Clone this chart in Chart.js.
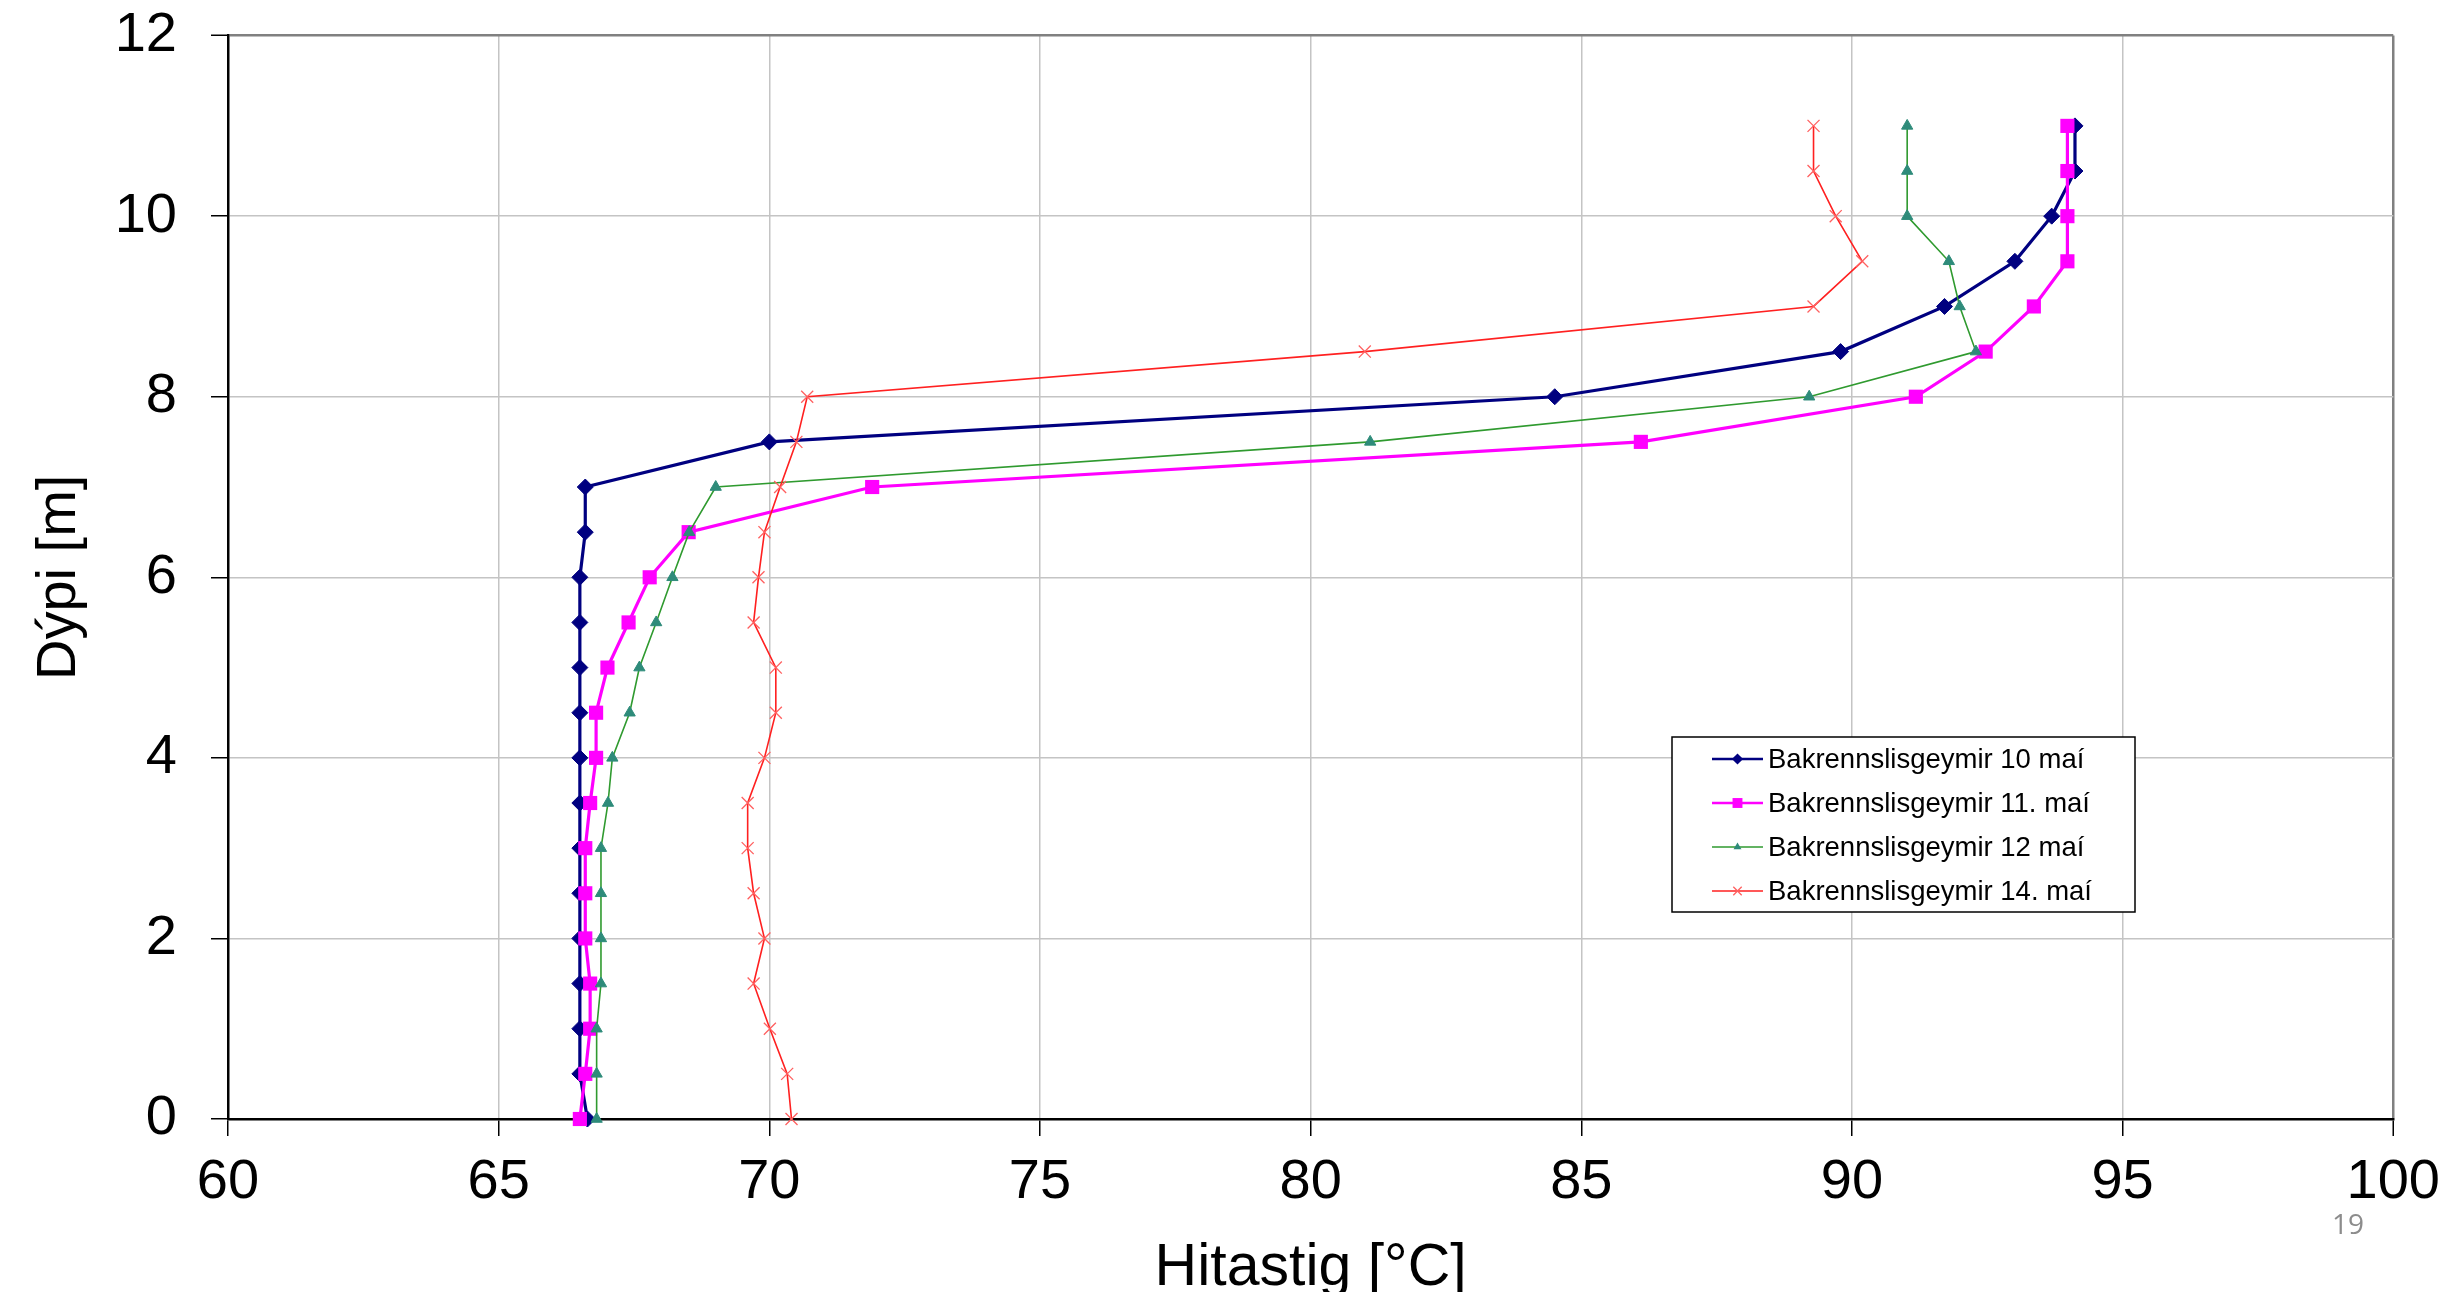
<!DOCTYPE html>
<html>
<head>
<meta charset="utf-8">
<title>Bakrennslisgeymir – hitastig eftir dýpi</title>
<script src="https://cdn.jsdelivr.net/npm/chart.js@4.4.1/dist/chart.umd.min.js"></script>
<style>
  html, body { margin: 0; padding: 0; background: #fff; }
  #wrap { position: relative; width: 2442px; height: 1292px; overflow: hidden; }
  /* canvas is a little larger than the page: Chart.js reserves room for the
     edge tick labels, so it is nudged up/right to put the plot frame where it should be */
  #chart { position: absolute; left: 0; top: -32px; }
</style>
</head>
<body>
<div id="wrap"><canvas id="chart" width="2453" height="1324"></canvas></div>
<script>
// depth [m] of each reading, shared by all four profiles
const depths = [0, 0.5, 1, 1.5, 2, 2.5, 3, 3.5, 4, 4.5, 5, 5.5, 6, 6.5, 7, 7.5, 8, 8.5, 9, 9.5, 10, 10.5, 11];

// temperature [°C]
const temp10 = [66.64, 66.5, 66.5, 66.5, 66.5, 66.5, 66.5, 66.5, 66.5, 66.5, 66.5, 66.5, 66.5, 66.6, 66.6,
  70.0, 84.51, 89.79, 91.71, 93.01, 93.69, 94.12, 94.12];
const temp11 = [66.5, 66.6, 66.69, 66.69, 66.6, 66.6, 66.6, 66.69, 66.8, 66.8, 67.01, 67.4, 67.79, 68.51, 71.9,
  86.1, 91.18, 92.47, 93.36, 93.98, 93.98, 93.98, 93.98];
const temp12 = [66.81, 66.81, 66.81, 66.89, 66.89, 66.89, 66.89, 67.02, 67.1, 67.42, 67.6, 67.91, 68.21, 68.52, 69.01,
  81.1, 89.21, 92.29, 91.99, 91.79, 91.02, 91.02, 91.02];
const temp14 = [70.41, 70.33, 70.01, 69.71, 69.91, 69.71, 69.6, 69.6, 69.91, 70.12, 70.12, 69.71, 69.8, 69.91, 70.2,
  70.5, 70.7, 81.0, 89.29, 90.19, 89.7, 89.29, 89.29];

const seriesLabels = ["Bakrennslisgeymir 10 maí", "Bakrennslisgeymir 11. maí", "Bakrennslisgeymir 12 maí", "Bakrennslisgeymir 14. maí"];
const xTicks = [60, 65, 70, 75, 80, 85, 90, 95, 100];
const yTicks = [0, 2, 4, 6, 8, 10, 12];

const fontFamily = "'Liberation Sans', Arial, Helvetica, sans-serif";
const shiftY = 32; // canvas offset above the page top

function profile(temps) {
  return temps.map((t, i) => ({ x: t, y: depths[i] }));
}

const datasets = [
  {
    label: seriesLabels[0], data: profile(temp10),
    borderColor: "#000080", borderWidth: 3.2,
    pointStyle: "rectRot", pointRadius: 8, pointBackgroundColor: "#000080", pointBorderColor: "#000080", pointBorderWidth: 1,
    order: 3,
  },
  {
    label: seriesLabels[1], data: profile(temp11),
    borderColor: "#ff00ff", borderWidth: 3.2,
    pointStyle: "rect", pointRadius: 10, pointBackgroundColor: "#ff00ff", pointBorderColor: "#ff00ff", pointBorderWidth: 0,
    order: 2,
  },
  {
    label: seriesLabels[2], data: profile(temp12),
    borderColor: "#2f9a2f", borderWidth: 1.6,
    pointStyle: "triangle", pointRadius: 6.5, pointBackgroundColor: "#2e8b7a", pointBorderColor: "#2e8b7a", pointBorderWidth: 1,
    order: 1,
  },
  {
    label: seriesLabels[3], data: profile(temp14),
    borderColor: "#ff2020", borderWidth: 1.6,
    pointStyle: "crossRot", pointRadius: 8.5, pointBackgroundColor: "#ff6060", pointBorderColor: "#ff6060", pointBorderWidth: 1.3,
    order: 0,
  },
];
datasets.forEach((ds) => {
  ds.showLine = true;
  ds.tension = 0;
  ds.clip = false;
  ds.pointHoverRadius = ds.pointRadius;
});

function drawMarker(ctx, style, x, y, r, color, lw) {
  ctx.save();
  ctx.fillStyle = color;
  ctx.strokeStyle = color;
  ctx.lineWidth = lw;
  ctx.beginPath();
  if (style === "rectRot") {
    ctx.moveTo(x - r, y); ctx.lineTo(x, y - r); ctx.lineTo(x + r, y); ctx.lineTo(x, y + r); ctx.closePath();
    ctx.fill();
  } else if (style === "rect") {
    const s = r * Math.SQRT1_2;
    ctx.rect(x - s, y - s, 2 * s, 2 * s);
    ctx.fill();
  } else if (style === "triangle") {
    for (let k = 0; k < 3; k++) {
      const a = k * 2 * Math.PI / 3;
      const px = x + Math.sin(a) * r, py = y - Math.cos(a) * r;
      if (k === 0) ctx.moveTo(px, py); else ctx.lineTo(px, py);
    }
    ctx.closePath();
    ctx.fill();
  } else if (style === "crossRot") {
    const s = r * Math.SQRT1_2;
    ctx.moveTo(x - s, y - s); ctx.lineTo(x + s, y + s);
    ctx.moveTo(x - s, y + s); ctx.lineTo(x + s, y - s);
    ctx.stroke();
  }
  ctx.restore();
}

// boxed legend with line + marker samples, like the spreadsheet original
const legendBox = {
  id: "legendBox",
  afterDatasetsDraw(chart) {
    const ctx = chart.ctx;
    const left = 1672, top = 737 + shiftY, width = 463, height = 175;
    ctx.save();
    ctx.fillStyle = "#fff";
    ctx.fillRect(left, top, width, height);
    ctx.strokeStyle = "#000";
    ctx.lineWidth = 1.5;
    ctx.strokeRect(left, top, width, height);
    ctx.font = "27.5px " + fontFamily;
    ctx.textBaseline = "middle";
    ctx.textAlign = "left";
    chart.data.datasets.forEach((ds, i) => {
      const y = top + 22 + i * 44;
      ctx.strokeStyle = ds.borderColor;
      ctx.lineWidth = ds.borderWidth * 0.8;
      ctx.beginPath();
      ctx.moveTo(left + 40, y);
      ctx.lineTo(left + 91, y);
      ctx.stroke();
      drawMarker(ctx, ds.pointStyle, left + 65.5, y, ds.pointRadius * 0.7, ds.pointBackgroundColor, ds.pointBorderWidth);
      ctx.fillStyle = "#000";
      ctx.fillText(ds.label, left + 96, y + 1);
    });
    ctx.restore();
  },
  afterDraw(chart) {
    const ctx = chart.ctx;
    ctx.save();
    ctx.font = "28px 'Open Sans', 'Noto Sans', sans-serif";
    ctx.fillStyle = "#8c8c8c";
    ctx.textAlign = "center";
    ctx.textBaseline = "middle";
    ctx.fillText("19", 2348, 1226 + shiftY);
    ctx.restore();
  },
};

new Chart(document.getElementById("chart"), {
  type: "scatter",
  data: { datasets },
  options: {
    responsive: false,
    animation: false,
    devicePixelRatio: 1,
    layout: { padding: { top: 3, right: 39, left: 0, bottom: 0 } },
    plugins: { legend: { display: false }, tooltip: { enabled: false } },
    scales: {
      x: {
        type: "linear",
        min: 60,
        max: 100,
        afterBuildTicks: (scale) => { scale.ticks = xTicks.map((v) => ({ value: v })); },
        afterFit: (scale) => { scale.height = 173; },
        ticks: { font: { family: fontFamily, size: 56 }, color: "#000", padding: 13, maxRotation: 0, autoSkip: false },
        grid: {
          color: (c) => (c.tick && c.tick.value === 100 ? "#808080" : "#c4c4c4"),
          lineWidth: (c) => (c.tick && c.tick.value === 100 ? 2.5 : 1.5),
          tickLength: 17,
          tickColor: "#000",
          tickWidth: 1.5,
        },
        border: { color: "#000", width: 2.5 },
        title: {
          display: true, text: "Hitastig [°C]", color: "#000",
          font: { family: fontFamily, size: 59 }, padding: { top: 0, bottom: -12 },
        },
      },
      y: {
        type: "linear",
        min: 0,
        max: 12,
        afterBuildTicks: (scale) => { scale.ticks = yTicks.map((v) => ({ value: v })); },
        afterFit: (scale) => { scale.width = 228; },
        ticks: { font: { family: fontFamily, size: 56 }, color: "#000", padding: 34, autoSkip: false },
        grid: {
          color: (c) => (c.tick && c.tick.value === 12 ? "#808080" : "#c4c4c4"),
          lineWidth: (c) => (c.tick && c.tick.value === 12 ? 2.5 : 1.5),
          tickLength: 17,
          tickColor: "#000",
          tickWidth: 1.5,
        },
        border: { color: "#000", width: 2.5 },
        title: {
          display: true, text: "Dýpi [m]", color: "#000",
          font: { family: fontFamily, size: 56 }, padding: { top: 26, bottom: 0 },
        },
      },
    },
  },
  plugins: [legendBox],
});
</script>
</body>
</html>
